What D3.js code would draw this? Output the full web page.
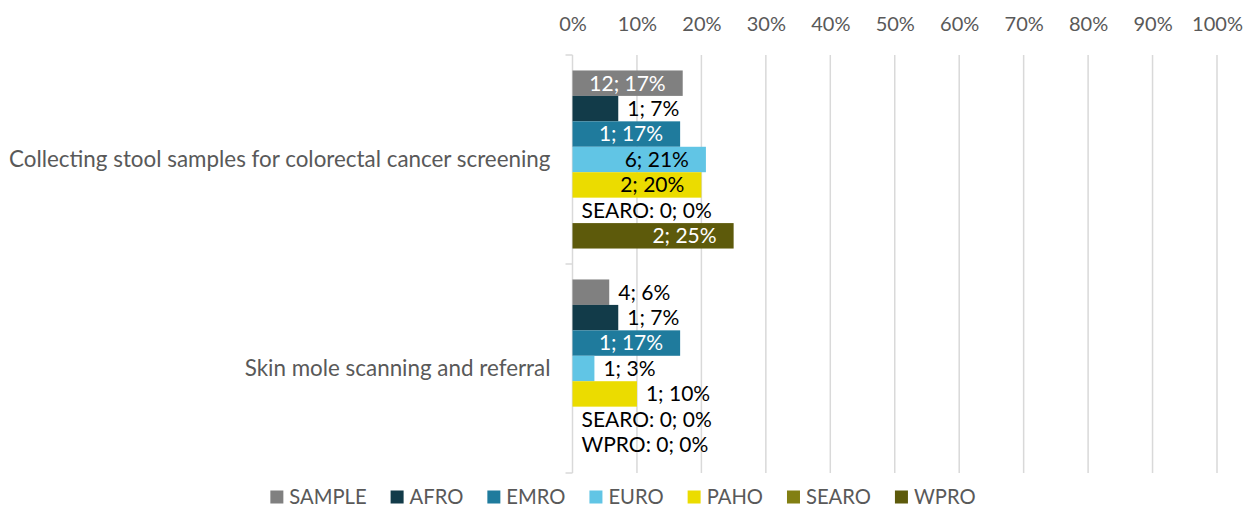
<!DOCTYPE html>
<html>
<head>
<meta charset="utf-8">
<script src="https://cdn.jsdelivr.net/npm/d3@7"></script>
<style>
  body { margin: 0; background: #fff; }
  svg { font-family: Lato, "Open Sans", sans-serif; }
</style>
</head>
<body>
<div id="content"></div>
<script>
let width = 1253;
let height = 510;
let margin = ({top: 55, right: 36, bottom: 37, left: 572.5});
let fontSize = 20;

// Chart values
let categories = ["Collecting stool samples for colorectal cancer screening", "Skin mole scanning and referral"];
let regions = ["SAMPLE", "AFRO", "EMRO", "EURO", "PAHO", "SEARO", "WPRO"];
let regionColors = ["#808080", "#123b49", "#1f7b9d", "#61c5e5", "#ebdc00", "#827f12", "#5d5a0b"];
let darkText = ["EURO", "PAHO"];
let stoolCounts = [12, 1, 1, 6, 2, 0, 2];
let stoolShares = [17.1, 7.1, 16.7, 20.7, 20, 0, 25];
let moleCounts = [4, 1, 1, 1, 1, 0, 0];
let moleShares = [5.7, 7.1, 16.7, 3.4, 10, 0, 0];
let tickValues = [0, 10, 20, 30, 40, 50, 60, 70, 80, 90, 100];

let rows = [];
[[stoolCounts, stoolShares], [moleCounts, moleShares]].forEach(function(pair, c) {
    regions.forEach(function(r, i) {
        rows.push({category: categories[c], region: r, count: pair[0][i], share: pair[1][i]});
    });
});

let colors = d3.scaleOrdinal().domain(regions).range(regionColors);

let svg = d3.select("#content")
    .append("svg")
    .attr("width", width)
    .attr("height", height);

let xScale = d3.scaleLinear()
    .domain([0, 100])
    .range([margin.left, width - margin.right]);

let yScale = d3.scaleBand()
    .domain(categories)
    .range([margin.top, height - margin.bottom]);

let groupPad = 0.074;
let yInner = d3.scaleBand()
    .domain(regions)
    .range([yScale.bandwidth() * groupPad, yScale.bandwidth() * (1 - groupPad)]);

// Gridlines
svg.append("g")
    .selectAll("line")
    .data(tickValues.slice(1))
    .enter()
    .append("line")
    .attr("x1", d => xScale(d))
    .attr("x2", d => xScale(d))
    .attr("y1", margin.top)
    .attr("y2", height - margin.bottom)
    .attr("stroke", "#d9d9d9")
    .attr("stroke-width", 1.5);

// Top axis labels
let xAxis = d3.axisTop(xScale)
    .tickValues(tickValues)
    .tickFormat(d => d + "%")
    .tickSize(0)
    .tickPadding(24);

svg.append("g")
    .attr("class", "x axis")
    .attr("transform", "translate(0," + margin.top + ")")
    .call(xAxis)
    .call(g => g.select(".domain").remove())
    .selectAll("text")
    .attr("fill", "#595959")
    .style("font-size", fontSize + "px")
    .style("font-family", "Lato, sans-serif");

// Category axis
let yAxis = d3.axisLeft(yScale)
    .tickSize(0)
    .tickPadding(22);

let yg = svg.append("g")
    .attr("class", "y axis")
    .attr("transform", "translate(" + margin.left + ",0)")
    .call(yAxis);
yg.select(".domain").remove();
yg.selectAll("text")
    .attr("fill", "#595959")
    .style("font-size", "22.4px")
    .style("font-family", "Lato, sans-serif");

// axis line with boundary ticks
let bounds = [margin.top].concat(categories.map(c => yScale(c) + yScale.bandwidth()));
svg.append("line")
    .attr("x1", margin.left).attr("x2", margin.left)
    .attr("y1", margin.top).attr("y2", height - margin.bottom)
    .attr("stroke", "#d9d9d9").attr("stroke-width", 1.5);
svg.append("g")
    .selectAll("line")
    .data(bounds)
    .enter()
    .append("line")
    .attr("x1", margin.left - 7).attr("x2", margin.left)
    .attr("y1", d => d).attr("y2", d => d)
    .attr("stroke", "#d9d9d9").attr("stroke-width", 1.5);

// Bars
svg.append("g")
    .selectAll("rect")
    .data(rows)
    .enter()
    .append("rect")
    .attr("x", xScale(0))
    .attr("y", d => yScale(d.category) + yInner(d.region))
    .attr("width", d => xScale(d.share) - xScale(0))
    .attr("height", yInner.bandwidth())
    .attr("fill", d => colors(d.region));

// Data labels: inside end when they fit, otherwise just outside
let labels = svg.append("g")
    .selectAll("text")
    .data(rows)
    .enter()
    .append("text")
    .attr("y", d => yScale(d.category) + yInner(d.region) + yInner.bandwidth() / 2)
    .attr("dy", "0.35em")
    .style("font-size", "21px")
    .text(d => d.count === 0 ? d.region + ": 0; 0%" : d.count + "; " + Math.round(d.share) + "%");

labels.each(function(d) {
    let t = d3.select(this);
    let w = this.getComputedTextLength();
    let barEnd = xScale(d.share);
    if (barEnd - xScale(0) >= w + 30) {
        t.attr("x", barEnd - 17)
            .attr("text-anchor", "end")
            .attr("fill", darkText.includes(d.region) ? "#000" : "#fff");
    } else {
        t.attr("x", barEnd + 9)
            .attr("text-anchor", "start")
            .attr("fill", "#000");
    }
});

// Legend
let legend = svg.append("g");
let items = legend.selectAll("g")
    .data(regions)
    .enter()
    .append("g");
items.append("rect")
    .attr("width", 13)
    .attr("height", 13)
    .attr("y", -6.5)
    .attr("fill", d => colors(d));
items.append("text")
    .attr("x", 19)
    .attr("dy", "0.35em")
    .attr("fill", "#595959")
    .style("font-size", "20.2px")
    .text(d => d);

let cursor = 0;
items.each(function() {
    let g = d3.select(this);
    g.attr("transform", "translate(" + cursor + ",0)");
    cursor += 19 + g.select("text").node().getComputedTextLength() + 24;
});
cursor -= 24;
legend.attr("transform", "translate(" + (623 - cursor / 2) + "," + 497 + ")");
</script>
</body>
</html>
